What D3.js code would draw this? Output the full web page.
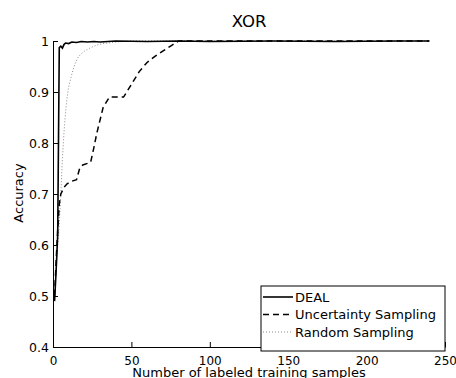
<!DOCTYPE html>
<html lang="en">
<head>
    <meta charset="utf-8" />
    <title>XOR</title>
    <script src="https://d3js.org/d3.v7.min.js"></script>
    <style>
        body { margin: 0; background: #fff; }
        svg { font-family: "DejaVu Sans", sans-serif; }
    </style>
</head>
<body>
    <svg width="456" height="378"></svg>
    <script>

        let width = 456, height = 378;

        // data
        var dealX = [1, 2, 3, 4, 5, 6, 7, 8, 10, 12, 15, 18, 22, 26, 30, 35, 40, 60, 80, 100, 140, 180, 220, 240];
        var dealY = [0.49, 0.55, 0.62, 0.987, 0.99, 0.986, 0.993, 0.996, 0.995, 0.998, 0.997, 0.999, 0.998, 0.999, 0.998, 0.999, 1, 0.999, 1, 0.999, 1, 0.999, 1, 1];

        var uncX = [1, 2, 3, 4, 5, 7, 9, 12, 15, 17, 19, 22, 24, 26, 28, 30, 32, 34, 36, 45, 47, 50, 55, 60, 65, 70, 75, 80, 120, 160, 200, 240];
        var uncY = [0.5, 0.57, 0.63, 0.68, 0.7, 0.713, 0.72, 0.725, 0.728, 0.75, 0.757, 0.76, 0.762, 0.79, 0.82, 0.845, 0.87, 0.88, 0.89, 0.89, 0.9, 0.915, 0.94, 0.958, 0.97, 0.98, 0.99, 1, 1, 1, 1, 1];

        var randX = [1, 2, 3, 4, 5, 6, 7, 8, 9, 10, 12, 14, 16, 18, 20, 24, 28, 32, 40, 50, 100, 150, 200, 240];
        var randY = [0.5, 0.55, 0.6, 0.64, 0.7, 0.77, 0.82, 0.86, 0.89, 0.91, 0.935, 0.955, 0.968, 0.975, 0.98, 0.987, 0.992, 0.995, 0.998, 1, 1, 1, 1, 1];

        var xTicks = [0, 50, 100, 150, 200, 250];
        var yTicks = [0.4, 0.5, 0.6, 0.7, 0.8, 0.9, 1];
        var seriesNames = ["DEAL", "Uncertainty Sampling", "Random Sampling"];

        let svg = d3.select("svg")
            .attr("viewBox", "0 0 " + width + " " + height);

        var x = d3.scaleLinear().domain([0, 250]).range([53, 445]);
        var y = d3.scaleLinear().domain([0.4, 1]).range([347, 41]);

        var line = d3.line()
            .x(d => x(d[0]))
            .y(d => y(d[1]));

        var series = [
            { name: seriesNames[0], pts: d3.zip(dealX, dealY), color: "#000", width: 1.6, dash: null },
            { name: seriesNames[1], pts: d3.zip(uncX, uncY), color: "#000", width: 1.5, dash: "6,4" },
            { name: seriesNames[2], pts: d3.zip(randX, randY), color: "#8a8a8a", width: 1, dash: "1,2" }
        ];

        // lines (dotted first so the solid one sits on top)
        svg.append("g")
            .selectAll("path")
            .data(series.slice().reverse())
            .enter()
            .append("path")
            .attr("d", d => line(d.pts))
            .attr("fill", "none")
            .attr("stroke", d => d.color)
            .attr("stroke-width", d => d.width)
            .attr("stroke-dasharray", d => d.dash);

        // axes, ticks pointing inward like matlab
        svg.append("g")
            .attr("transform", "translate(0,347)")
            .call(d3.axisBottom(x).tickValues(xTicks).tickSizeInner(-5).tickSizeOuter(0).tickPadding(9))
            .call(g => g.selectAll("text").attr("font-size", 12).attr("fill", "#000").attr("font-family", "DejaVu Sans, sans-serif"));

        svg.append("g")
            .attr("transform", "translate(53,0)")
            .call(d3.axisLeft(y).tickValues(yTicks).tickFormat(d3.format("~g")).tickSizeInner(-5).tickSizeOuter(0).tickPadding(4))
            .call(g => g.selectAll("text").attr("font-size", 12.5).attr("fill", "#000").attr("font-family", "DejaVu Sans, sans-serif"));

        svg.selectAll(".domain").attr("stroke", "#000");
        svg.selectAll(".tick line").attr("stroke", "#000");

        // titles
        svg.append("text")
            .attr("x", 249).attr("y", 27)
            .attr("text-anchor", "middle")
            .attr("font-size", 16.5)
            .text("XOR");

        svg.append("text")
            .attr("x", 249).attr("y", 377)
            .attr("text-anchor", "middle")
            .attr("font-size", 13)
            .text("Number of labeled training samples");

        svg.append("text")
            .attr("transform", "translate(23,193) rotate(-90)")
            .attr("text-anchor", "middle")
            .attr("font-size", 13)
            .text("Accuracy");

        // legend
        var legend = svg.append("g").attr("transform", "translate(261,286)");
        legend.append("rect")
            .attr("width", 184).attr("height", 65)
            .attr("fill", "#fff").attr("stroke", "#000").attr("stroke-width", 1);

        var items = legend.selectAll("g.item")
            .data(series)
            .enter()
            .append("g")
            .attr("class", "item")
            .attr("transform", (d, i) => "translate(0," + (11 + i * 17.5) + ")");

        items.append("line")
            .attr("x1", 2).attr("x2", 32)
            .attr("stroke", d => d.color)
            .attr("stroke-width", d => d.width)
            .attr("stroke-dasharray", d => d.dash);

        items.append("text")
            .attr("x", 34).attr("dy", "0.35em")
            .attr("font-size", 13)
            .text(d => d.name);

    </script>
</body>
</html>
